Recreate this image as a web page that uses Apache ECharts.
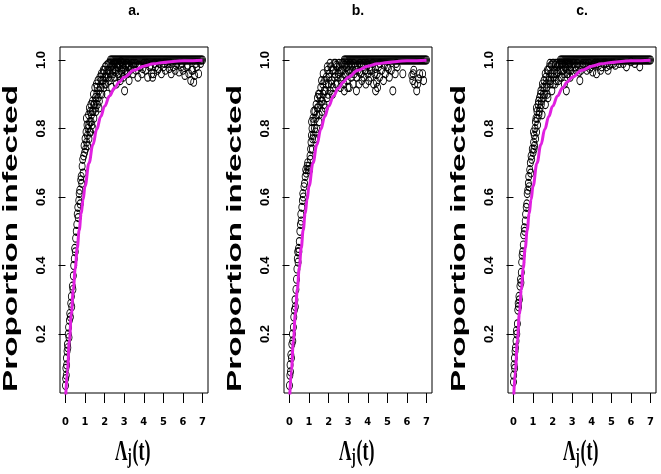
<!DOCTYPE html>
<html><head><meta charset="utf-8">
<script src="https://cdn.jsdelivr.net/npm/echarts@6/dist/echarts.min.js"></script>
<style>html,body{margin:0;padding:0;background:#fff}#c{width:661px;height:474px}</style>
</head><body><div id="c"></div>
<script>
const panelTitles = ['a.', 'b.', 'c.'];
const yAxisTitle = 'Proportion infected';
const xTicks = [0, 1, 2, 3, 4, 5, 6, 7];
const yTicks = [0.2, 0.4, 0.6, 0.8, 1.0];

// fitted curve (magenta)
const curveX = [0,0.1,0.2,0.3,0.4,0.5,0.6,0.7,0.8,0.9,1.0,1.2,1.4,1.6,1.8,2.0,2.25,2.5,2.75,3.0,3.5,4.0,4.5,5.0,5.5,6.0,6.5,7.0];
const curveY = [0,0.095,0.181,0.259,0.330,0.393,0.451,0.503,0.551,0.593,0.632,0.699,0.753,0.798,0.835,0.865,0.895,0.918,0.936,0.950,0.970,0.982,0.989,0.993,0.996,0.998,0.998,0.999];

// panel a points
const pointsA = [
[0.00,0.05],[0.01,0.07],[0.02,0.10],[0.04,0.08],[0.05,0.13],[0.06,0.11],[0.08,0.15],[0.10,0.17],[0.12,0.16],[0.14,0.20],[0.16,0.22],[0.18,0.19],[0.20,0.24],[0.22,0.26],[0.25,0.25],[0.27,0.29],[0.30,0.31],[0.32,0.28],[0.35,0.34],[0.38,0.33],[0.40,0.37],[0.42,0.40],[0.45,0.42],[0.47,0.45],[0.50,0.44],[0.52,0.48],[0.55,0.50],[0.58,0.52],[0.60,0.55],[0.63,0.57],[0.65,0.54],[0.68,0.59],[0.70,0.61],[0.73,0.62],[0.75,0.58],[0.78,0.65],[0.80,0.66],[0.83,0.64],[0.85,0.69],[0.88,0.71],[0.90,0.67],[0.93,0.72],[0.95,0.75],[0.98,0.73],[1.00,0.77],[1.03,0.74],[1.05,0.79],[1.08,0.76],[1.10,0.81],[1.12,0.78],
[1.15,0.80],[1.18,0.84],[1.20,0.77],[1.22,0.86],[1.25,0.82],[1.28,0.79],[1.30,0.87],[1.33,0.84],[1.35,0.81],[1.38,0.88],[1.40,0.85],[1.43,0.90],[1.45,0.83],[1.48,0.87],[1.50,0.92],[1.53,0.89],[1.55,0.85],[1.58,0.93],[1.60,0.90],[1.63,0.87],[1.66,0.94],[1.70,0.91],[1.73,0.88],[1.76,0.95],[1.80,0.92],[1.83,0.96],[1.86,0.90],[1.90,0.94],[1.93,0.97],[1.96,0.92],[2.00,0.95],[2.03,0.98],[2.06,0.93],[2.10,0.96],[2.13,0.90],[2.16,0.97],[2.20,0.99],[2.24,0.94],[2.28,0.96],[2.32,0.98],[2.36,0.92],[2.40,0.97],[2.45,0.99],[2.50,0.95],[2.55,0.97],[2.60,0.93],[2.65,0.98],[2.70,0.96],[2.75,0.99],[2.80,0.94],[2.85,0.97],[2.90,0.98],[2.95,0.95],[3.02,0.91],[3.05,0.97],[3.10,0.99],[3.15,0.96],[3.20,0.98],[3.25,0.94],[3.30,0.97],[3.40,0.99],[3.45,0.96],[3.50,0.98],
[3.60,0.97],[3.70,0.95],[3.80,0.98],[3.90,0.96],[4.00,0.99],[4.10,0.97],[4.20,0.95],[4.30,0.98],[4.40,0.96],[4.45,0.95],[4.50,0.96],[4.60,0.98],[4.70,0.97],[4.80,0.99],[4.90,0.96],[5.00,0.98],[5.10,0.97],[5.20,0.99],[5.30,0.975],[5.40,0.96],[5.50,0.98],[5.60,0.97],[5.70,0.99],[5.80,0.965],[5.90,0.98],[6.00,0.97],[6.10,0.955],[6.20,0.98],[6.30,0.96],[6.40,0.94],[6.50,0.97],[6.55,0.935],[6.60,0.955],[6.70,0.98],[6.80,0.96],
[1.07,0.83],[1.13,0.75],[1.19,0.81],[1.24,0.79],[1.27,0.85],[1.31,0.82],[1.37,0.85],[1.41,0.80],[1.44,0.87],[1.52,0.86],[1.57,0.88],[1.62,0.92],[1.67,0.89],[1.71,0.86],[1.78,0.90],[1.82,0.94],[1.88,0.93],[1.91,0.96],[1.98,0.97],[2.02,0.93],[2.08,0.95],[2.11,0.985],[2.18,0.95],[2.22,0.97],[2.27,0.99],[2.33,0.95],[2.38,0.985],[2.43,0.96],[2.48,0.975],[2.53,0.99],[2.58,0.965],[2.63,0.99],[2.68,0.98],[2.73,0.955],[2.78,0.985],[2.83,0.995],[2.88,0.965],[2.93,0.99],[2.98,0.975],[3.08,0.985],[3.13,0.965],[3.18,0.99],[3.28,0.985],[3.35,0.975],[3.48,0.99],[3.58,0.99],[3.75,0.985],[3.95,0.975],[4.15,0.99],[4.35,0.985],[4.55,0.99],[4.75,0.975],[5.05,0.99],[5.35,0.99],[5.65,0.985],[5.95,0.99],[6.25,0.985],[6.45,0.97],[6.65,0.99],[6.90,0.99]
];
// panel a points lying at 1.0 (x positions)
const satA = [2.3,2.35,2.4,2.45,2.5,2.55,2.6,2.65,2.7,2.75,2.8,2.85,2.9,2.95,3.0,3.05,3.1,3.15,3.2,3.25,3.3,3.35,3.4,3.45,3.5,3.55,3.6,3.65,3.7,3.75,3.8,3.85,3.9,3.95,4.0,4.05,4.1,4.15,4.2,4.25,4.3,4.35,4.4,4.45,4.5,4.55,4.6,4.65,4.7,4.75,4.8,4.85,4.9,4.95,5.0,5.05,5.1,5.15,5.2,5.25,5.3,5.35,5.4,5.45,5.5,5.55,5.6,5.65,5.7,5.75,5.8,5.85,5.9,5.95,6.0,6.05,6.1,6.15,6.2,6.25,6.3,6.35,6.4,6.45,6.5,6.55,6.6,6.65,6.7,6.75,6.8,6.85,6.9,6.95,7.0];

// panel b points
const pointsB = [
[0.00,0.05],[0.02,0.08],[0.03,0.11],[0.05,0.09],[0.07,0.14],[0.10,0.13],[0.12,0.17],[0.15,0.20],[0.17,0.18],[0.20,0.22],[0.22,0.25],[0.25,0.27],[0.28,0.30],[0.30,0.28],[0.33,0.33],[0.36,0.36],[0.38,0.39],[0.40,0.42],[0.42,0.44],[0.44,0.41],[0.46,0.45],[0.48,0.44],[0.50,0.47],[0.53,0.50],[0.56,0.52],[0.58,0.55],[0.60,0.53],[0.63,0.57],[0.66,0.59],[0.68,0.61],[0.71,0.60],[0.74,0.63],[0.77,0.64],[0.80,0.66],[0.83,0.68],[0.86,0.67],[0.90,0.69],[0.93,0.70],[0.96,0.68],[1.00,0.69],[1.03,0.68],[1.05,0.72],[1.08,0.74],[1.10,0.76],[1.12,0.78],
[1.15,0.80],[1.18,0.77],[1.20,0.83],[1.22,0.78],[1.25,0.82],[1.28,0.80],[1.30,0.85],[1.33,0.79],[1.36,0.87],[1.40,0.84],[1.43,0.89],[1.46,0.86],[1.50,0.82],[1.53,0.90],[1.56,0.87],[1.60,0.92],[1.63,0.88],[1.66,0.85],[1.70,0.93],[1.73,0.90],[1.76,0.87],[1.80,0.94],[1.84,0.91],[1.88,0.95],[1.92,0.89],[1.95,0.97],[2.00,0.93],[2.04,0.96],[2.08,0.91],[2.12,0.98],[2.16,0.94],[2.20,0.90],[2.25,0.97],[2.30,0.95],[2.35,0.99],[2.40,0.985],[2.45,0.93],[2.50,0.96],[2.55,0.98],[2.60,0.92],[2.65,0.97],[2.70,0.95],[2.75,0.99],[2.80,0.91],[2.85,0.96],[2.90,0.98],[2.95,0.94],[3.00,0.97],[3.05,0.92],[3.10,0.99],[3.15,0.95],[3.20,0.97],[3.25,0.93],[3.30,0.96],[3.35,0.98],[3.42,0.91],[3.45,0.95],
[3.50,0.97],[3.55,0.93],[3.60,0.99],[3.65,0.96],[3.70,0.94],[3.75,0.98],[3.80,0.95],[3.85,0.97],[3.90,0.93],[3.95,0.99],[4.00,0.96],[4.05,0.94],[4.10,0.98],[4.15,0.95],[4.20,0.97],[4.30,0.93],[4.35,0.96],[4.40,0.91],[4.45,0.935],[4.50,0.92],[4.55,0.98],[4.60,0.95],[4.70,0.97],[4.80,0.94],[4.90,0.96],[5.00,0.98],[5.10,0.95],[5.20,0.97],[5.28,0.91],[5.40,0.96],[5.50,0.98],[5.79,0.96],[6.25,0.955],[6.30,0.94],[6.35,0.97],[6.40,0.93],[6.50,0.91],[6.60,0.945],[6.65,0.96],[6.80,0.96],[6.85,0.94],
[1.07,0.71],[1.13,0.82],[1.17,0.74],[1.24,0.85],[1.29,0.77],[1.34,0.83],[1.38,0.80],[1.42,0.86],[1.48,0.90],[1.52,0.84],[1.58,0.89],[1.64,0.94],[1.68,0.88],[1.72,0.96],[1.78,0.91],[1.82,0.86],[1.87,0.93],[1.93,0.98],[1.98,0.90],[2.02,0.95],[2.07,0.99],[2.14,0.93],[2.19,0.97],[2.23,0.92],[2.28,0.99],[2.33,0.96],[2.38,0.93],[2.43,0.98],[2.48,0.95],[2.53,0.99],[2.58,0.965],[2.63,0.94],[2.68,0.99],[2.73,0.97],[2.78,0.93],[2.83,0.985],[2.88,0.955],[2.93,0.99],[2.98,0.92],[3.03,0.985],[3.08,0.96],[3.18,0.985],[3.28,0.99],[3.38,0.97],[3.48,0.985],[3.58,0.965],[3.68,0.985],[3.78,0.99],[3.88,0.97],[3.98,0.985],[4.12,0.97],[4.25,0.99],[4.38,0.975],[4.48,0.96],[4.62,0.99],[4.85,0.985],[5.05,0.975],[5.45,0.99],[6.32,0.96],[6.55,0.93]
];
const satB = [2.8,2.85,2.9,2.95,3.0,3.05,3.1,3.15,3.2,3.25,3.3,3.35,3.4,3.45,3.5,3.55,3.6,3.65,3.7,3.75,3.8,3.85,3.9,3.95,4.0,4.05,4.1,4.15,4.2,4.25,4.3,4.35,4.4,4.45,4.5,4.55,4.6,4.65,4.7,4.75,4.8,4.85,4.9,4.95,5.0,5.05,5.1,5.15,5.2,5.25,5.3,5.35,5.4,5.45,5.5,5.55,5.6,5.65,5.7,5.75,5.8,5.85,5.9,5.95,6.0,6.05,6.1,6.15,6.2,6.25,6.3,6.35,6.4,6.45,6.5,6.55,6.6,6.65,6.7,6.75,6.8,6.85,6.9,6.95,7.0];

// panel c points
const pointsC = [
[0.00,0.06],[0.01,0.08],[0.03,0.11],[0.05,0.13],[0.06,0.10],[0.08,0.15],[0.10,0.16],[0.13,0.18],[0.15,0.21],[0.17,0.20],[0.20,0.23],[0.22,0.27],[0.24,0.29],[0.26,0.28],[0.28,0.31],[0.30,0.30],[0.33,0.34],[0.36,0.36],[0.38,0.35],[0.40,0.38],[0.42,0.41],[0.44,0.43],[0.47,0.44],[0.50,0.46],[0.52,0.49],[0.55,0.51],[0.57,0.50],[0.60,0.53],[0.62,0.55],[0.65,0.57],[0.68,0.58],[0.70,0.61],[0.73,0.62],[0.76,0.64],[0.78,0.66],[0.80,0.63],[0.83,0.68],[0.86,0.70],[0.88,0.67],[0.90,0.72],[0.93,0.71],[0.96,0.74],[1.00,0.73],[1.03,0.76],[1.06,0.78],
[1.08,0.75],[1.10,0.80],[1.13,0.77],[1.15,0.83],[1.18,0.79],[1.20,0.85],[1.23,0.81],[1.26,0.87],[1.30,0.84],[1.33,0.89],[1.36,0.86],[1.40,0.91],[1.43,0.88],[1.46,0.84],[1.50,0.92],[1.53,0.89],[1.56,0.94],[1.60,0.90],[1.63,0.87],[1.66,0.95],[1.70,0.92],[1.73,0.97],[1.76,0.89],[1.80,0.94],[1.84,0.98],[1.88,0.93],[1.92,0.96],[1.96,0.91],[2.00,0.99],[2.04,0.95],[2.08,0.97],[2.12,0.93],[2.16,0.99],[2.20,0.96],[2.25,0.98],[2.30,0.94],[2.35,0.99],[2.40,0.97],[2.45,0.95],[2.50,0.99],[2.55,0.97],[2.60,0.93],[2.65,0.98],[2.70,0.91],[2.75,0.96],[2.80,0.99],[2.85,0.97],[2.90,0.95],[2.95,0.98],[3.00,0.96],[3.10,0.99],[3.20,0.97],[3.30,0.98],[3.39,0.94],[3.45,0.97],
[3.55,0.99],[3.65,0.98],[3.75,0.97],[3.85,0.99],[3.95,0.98],[4.05,0.965],[4.15,0.99],[4.24,0.96],[4.35,0.985],[4.45,0.97],[4.60,0.99],[4.75,0.98],[4.83,0.97],[5.00,0.99],[5.20,0.985],[5.40,0.99],[5.77,0.98],[6.00,0.995],[6.45,0.98],
[1.02,0.79],[1.05,0.74],[1.12,0.82],[1.17,0.86],[1.22,0.83],[1.28,0.88],[1.32,0.85],[1.38,0.90],[1.42,0.87],[1.48,0.93],[1.52,0.90],[1.58,0.92],[1.62,0.96],[1.68,0.93],[1.72,0.90],[1.78,0.97],[1.82,0.95],[1.86,0.99],[1.90,0.94],[1.94,0.985],[1.98,0.96],[2.02,0.93],[2.06,0.99],[2.10,0.96],[2.14,0.985],[2.18,0.94],[2.23,0.99],[2.28,0.965],[2.33,0.985],[2.38,0.95],[2.43,0.99],[2.48,0.97],[2.53,0.985],[2.58,0.96],[2.63,0.99],[2.68,0.975],[2.73,0.99],[2.78,0.96],[2.83,0.985],[2.88,0.99],[2.93,0.97],[3.05,0.99],[3.15,0.98],[3.25,0.99],[3.35,0.965],[3.50,0.985],[3.70,0.99],[3.90,0.975],[4.10,0.985],[4.30,0.99],[4.50,0.98],[4.70,0.99],[4.90,0.985],[5.10,0.99],[5.60,0.99],[6.20,0.99]
];
const satC = [2.4,2.45,2.5,2.55,2.6,2.65,2.7,2.75,2.8,2.85,2.9,2.95,3.0,3.05,3.1,3.15,3.2,3.25,3.3,3.35,3.4,3.45,3.5,3.55,3.6,3.65,3.7,3.75,3.8,3.85,3.9,3.95,4.0,4.05,4.1,4.15,4.2,4.25,4.3,4.35,4.4,4.45,4.5,4.55,4.6,4.65,4.7,4.75,4.8,4.85,4.9,4.95,5.0,5.05,5.1,5.15,5.2,5.25,5.3,5.35,5.4,5.45,5.5,5.55,5.6,5.65,5.7,5.75,5.8,5.85,5.9,5.95,6.0,6.05,6.1,6.15,6.2,6.25,6.3,6.35,6.4,6.45,6.5,6.55,6.6,6.65,6.7,6.75,6.8,6.85,6.9,6.95,7.0];

const panelPoints = [pointsA, pointsB, pointsC];
const panelSat = [satA, satB, satC];

// ---------- layout / styling ----------
const lefts = [60, 284, 508];
const gTop = 47, gW = 148, gH = 346;
const narrow = "'Liberation Sans Narrow','DejaVu Sans Condensed','Liberation Sans',Arial,sans-serif";
const sans = "'Liberation Sans',Arial,sans-serif";

const grids = [], xAxes = [], yAxes = [], series = [], graphics = [];
const curveData = curveX.map((x, i) => [x, curveY[i]]);

lefts.forEach((L, i) => {
  grids.push({left: L, top: gTop, width: gW, height: gH, show: true, borderColor: '#000', borderWidth: 1, backgroundColor: 'transparent'});
  xAxes.push({
    gridIndex: i, type: 'value', min: -0.28, max: 7.28,
    axisLine: {show: false}, splitLine: {show: false},
    axisTick: {show: true, length: 10, customValues: xTicks, lineStyle: {color: '#000', width: 1}},
    axisLabel: {customValues: xTicks, margin: 24, fontSize: 11, fontWeight: 'bold', color: '#000', fontFamily: narrow}
  });
  yAxes.push({
    gridIndex: i, type: 'value', min: 0.028, max: 1.038,
    axisLine: {show: false}, splitLine: {show: false},
    axisTick: {show: true, length: 7, customValues: yTicks, lineStyle: {color: '#000', width: 1}},
    axisLabel: {customValues: yTicks, rotate: 90, margin: 12, fontSize: 13, fontWeight: 'bold', color: '#000', fontFamily: sans,
      formatter: v => Number(v).toFixed(1)}
  });
  const pts = panelPoints[i].concat(panelSat[i].map(x => [x, 1.0]));
  series.push({
    type: 'scatter', xAxisIndex: i, yAxisIndex: i, data: pts,
    symbol: 'circle', symbolSize: [6, 8], silent: true,
    itemStyle: {color: 'rgba(0,0,0,0)', borderColor: '#000', borderWidth: 1, opacity: 1}
  });
  series.push({
    type: 'line', xAxisIndex: i, yAxisIndex: i, data: curveData,
    showSymbol: false, symbol: 'none', smooth: 0.4, smoothMonotone: 'x', silent: true,
    lineStyle: {color: '#e020e0', width: 3}
  });
  const cx = L + gW / 2;
  const dx = L - 60;
  graphics.push({type: 'text', x: cx, y: 11.5, style: {text: panelTitles[i], font: "bold 14px 'Liberation Sans', Arial, sans-serif", fill: '#000', align: 'center', verticalAlign: 'middle'}});
  graphics.push({type: 'text', x: 11 + dx, y: 238.5, rotation: Math.PI / 2, scaleX: 1.04, scaleY: 0.66,
    style: {text: yAxisTitle, font: "bold 32px 'Liberation Sans', Arial, sans-serif", fill: '#000', align: 'center', verticalAlign: 'middle'}});
  graphics.push({type: 'text', x: 115 + dx, y: 452, scaleX: 0.58,
    style: {text: 'Λ', font: "bold 30px 'Liberation Serif', 'DejaVu Serif', serif", fill: '#000', align: 'left', verticalAlign: 'middle'}});
  graphics.push({type: 'text', x: 127.5 + dx, y: 457.6, scaleX: 0.62,
    style: {text: 'j', font: "bold 20px 'Liberation Serif', 'DejaVu Serif', serif", fill: '#000', align: 'left', verticalAlign: 'middle'}});
  graphics.push({type: 'text', x: 132.5 + dx, y: 452, scaleX: 0.6,
    style: {text: '(t)', font: "bold 30px 'Liberation Serif', 'DejaVu Serif', serif", fill: '#000', align: 'left', verticalAlign: 'middle'}});
});

const chart = echarts.init(document.getElementById('c'), null, {renderer: 'canvas'});
chart.setOption({
  animation: false,
  backgroundColor: '#fff',
  grid: grids, xAxis: xAxes, yAxis: yAxes, series: series,
  graphic: graphics
});
</script>
</body></html>
